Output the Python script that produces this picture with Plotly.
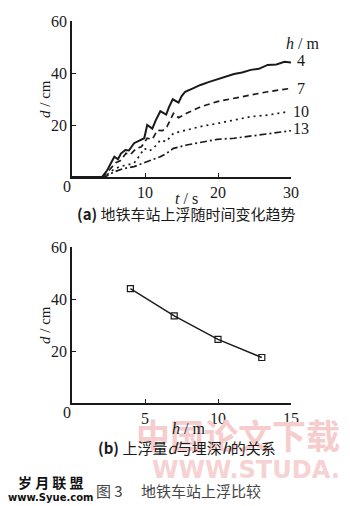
import plotly.graph_objects as go

# ---------------- data ----------------
t4 = [0, 2, 4.1, 4.8, 5.3, 5.8, 6.3, 6.7, 7.3, 7.8, 8.5, 9.2, 9.9, 10.3, 11.0, 11.5, 12.1, 12.9, 13.3, 13.8, 14.6, 15.0, 15.5, 16.5, 17.6, 18.8, 19.9, 21.0, 22.2, 23.3, 24.5, 25.6, 26.8, 28.0, 29.1, 30]
d4 = [0, 0, 0, 2.5, 5, 7.8, 6.8, 9, 10.4, 10.2, 13, 14, 14.9, 20, 18.6, 22, 25.3, 24, 27, 29.9, 28.6, 31, 32.8, 34, 35.4, 36.6, 37.6, 38.3, 39.6, 40.2, 41.2, 41.6, 43.1, 43.3, 44.3, 44]

t7 = [0, 2, 4.3, 5.2, 6.0, 6.6, 7.4, 8.0, 8.8, 9.5, 10.3, 11.0, 11.7, 12.4, 13.0, 13.9, 14.6, 15.7, 17.6, 19.9, 22.2, 24.5, 26.8, 30]
d7 = [0, 0, 0, 3, 5.5, 6.2, 9.1, 8.6, 11, 11.6, 14.9, 14.5, 18, 17.8, 19.3, 24.5, 22.8, 24.5, 27, 29, 30.3, 31.5, 32.8, 34.1]

t10 = [0, 2, 4.4, 5.5, 6.5, 7.5, 8.5, 9.2, 9.9, 10.6, 11.3, 12.1, 12.9, 13.9, 15.7, 17.6, 19.9, 22.2, 24.5, 26.8, 29.6]
d10 = [0, 0, 0, 2.5, 4, 4.6, 5.3, 8, 11, 10, 11.5, 14.2, 13.6, 16.8, 18, 19.4, 20.6, 21.9, 23.2, 23.8, 25.1]

t13 = [0, 2, 4.5, 5.8, 7.0, 8.5, 10.3, 12.1, 13.0, 13.9, 15.7, 17.6, 19.9, 22.2, 24.5, 26.8, 30]
d13 = [0, 0, 0, 2, 3.2, 4, 5.9, 7.8, 9.2, 11, 12.3, 13.2, 14.5, 14.9, 15.8, 16.8, 17.8]

depth_labels = ["4", "7", "10", "13"]
label_d = [45, 34.2, 25, 18.5]
depth_h = [4, 7, 10, 13]
final_d = [44, 33.5, 24.5, 17.5]

x_ticks_a = [10, 20, 30]
x_ticks_b = [5, 10, 15]
y_ticks = [20, 40, 60]

# ---------------- layout helpers (pixel -> paper) ----------------
W, H = 350, 506
ML, MR, MT, MB = 72, 59, 21, 103
PW, PH = W - ML - MR, H - MT - MB


def px(x):
    return (x - ML) / PW


def py(y):
    return (H - MB - y) / PH


top_dom = [py(177), 1.0]
bot_dom = [0.0, py(247)]

serif = "Liberation Serif"
cjk = "Noto Sans CJK SC"
ink = "#1a1a1a"

fig = go.Figure()

series = [(t4, d4, "solid"), (t7, d7, "6px,4px"), (t10, d10, "2px,4px"), (t13, d13, "7px,3px,2px,3px")]
for tt, dd, dsh in series:
    fig.add_trace(go.Scatter(x=tt, y=dd, mode="lines", xaxis="x", yaxis="y",
                             line=dict(color=ink, width=2.0 if dsh == "solid" else 1.7, dash=dsh),
                             showlegend=False, hoverinfo="skip"))

fig.add_trace(go.Scatter(x=depth_h, y=final_d, mode="lines+markers", xaxis="x2", yaxis="y2",
                         line=dict(color=ink, width=1.4),
                         marker=dict(symbol="square-open", size=6, color=ink, line=dict(width=1.2)),
                         showlegend=False, hoverinfo="skip"))

axis_common = dict(showline=True, linecolor=ink, linewidth=1.5, ticks="inside", ticklen=4,
                   tickcolor=ink, tickwidth=1, showgrid=False, zeroline=False,
                   tickfont=dict(family=serif, size=16, color=ink))

fig.update_layout(
    width=W, height=H, margin=dict(l=ML, r=MR, t=MT, b=MB),
    paper_bgcolor="white", plot_bgcolor="white",
    xaxis=dict(domain=[0, 1], anchor="y", range=[0, 30], tickvals=x_ticks_a, **axis_common),
    yaxis=dict(domain=top_dom, anchor="x", range=[0, 60], tickvals=y_ticks, **axis_common),
    xaxis2=dict(domain=[0, 1], anchor="y2", range=[0, 15], tickvals=x_ticks_b, **axis_common),
    yaxis2=dict(domain=bot_dom, anchor="x2", range=[0, 60], tickvals=y_ticks, **axis_common),
)

ann = []


def txt(x, y, s, size=15, family=serif, color=ink, xanchor="center", angle=0):
    ann.append(dict(x=x, y=y, xref="paper", yref="paper", text=s, showarrow=False, xanchor=xanchor,
                    yanchor="middle", textangle=angle, font=dict(family=family, size=size, color=color)))


# watermarks (faint, behind)
txt(px(238), py(434), "<b>中国论文下载</b>", size=34, family=cjk, color="#f6cccc")
txt(px(246), py(470), "<b>WWW.STUDA.</b>", size=24, family="DejaVu Sans", color="#f6d2d2")

# origin zeros
txt(px(67), py(186), "0", size=16)
txt(px(67), py(412), "0", size=16)

# axis titles
txt(px(45), py(99), "<i>d</i> / cm", angle=-90, size=15)
txt(px(186), py(198), "<i>t</i> / s", size=16)
txt(px(45), py(325), "<i>d</i> / cm", angle=-90, size=15)
txt(px(188), py(428), "<i>h</i> / m", size=16)

# series labels (right of line ends, in top panel)
txt(px(302), py(43), "<i>h</i> / m", size=16)
for lab, ld in zip(depth_labels, label_d):
    txt(px(301), top_dom[0] + ld / 60 * (top_dom[1] - top_dom[0]), lab, size=16)

# captions
txt(px(186), py(213), "<b>(a)</b> 地铁车站上浮随时间变化趋势", size=15, family=cjk)
txt(px(187), py(447), "<b>(b)</b> 上浮量<i>d</i>与埋深<i>h</i>的关系", size=15, family=cjk)
txt(px(178), py(490), "图 3　 地铁车站上浮比较", size=15, family=cjk, color="#444444")

# site logo
txt(px(51), py(482), "<b>岁 月 联 盟</b>", size=14, family=cjk, color="#111111")
txt(px(51), py(497), "<b>www.Syue.com</b>", size=10, family="DejaVu Sans", color="#111111")

fig.update_layout(annotations=ann)
fig.write_html("out.html")
